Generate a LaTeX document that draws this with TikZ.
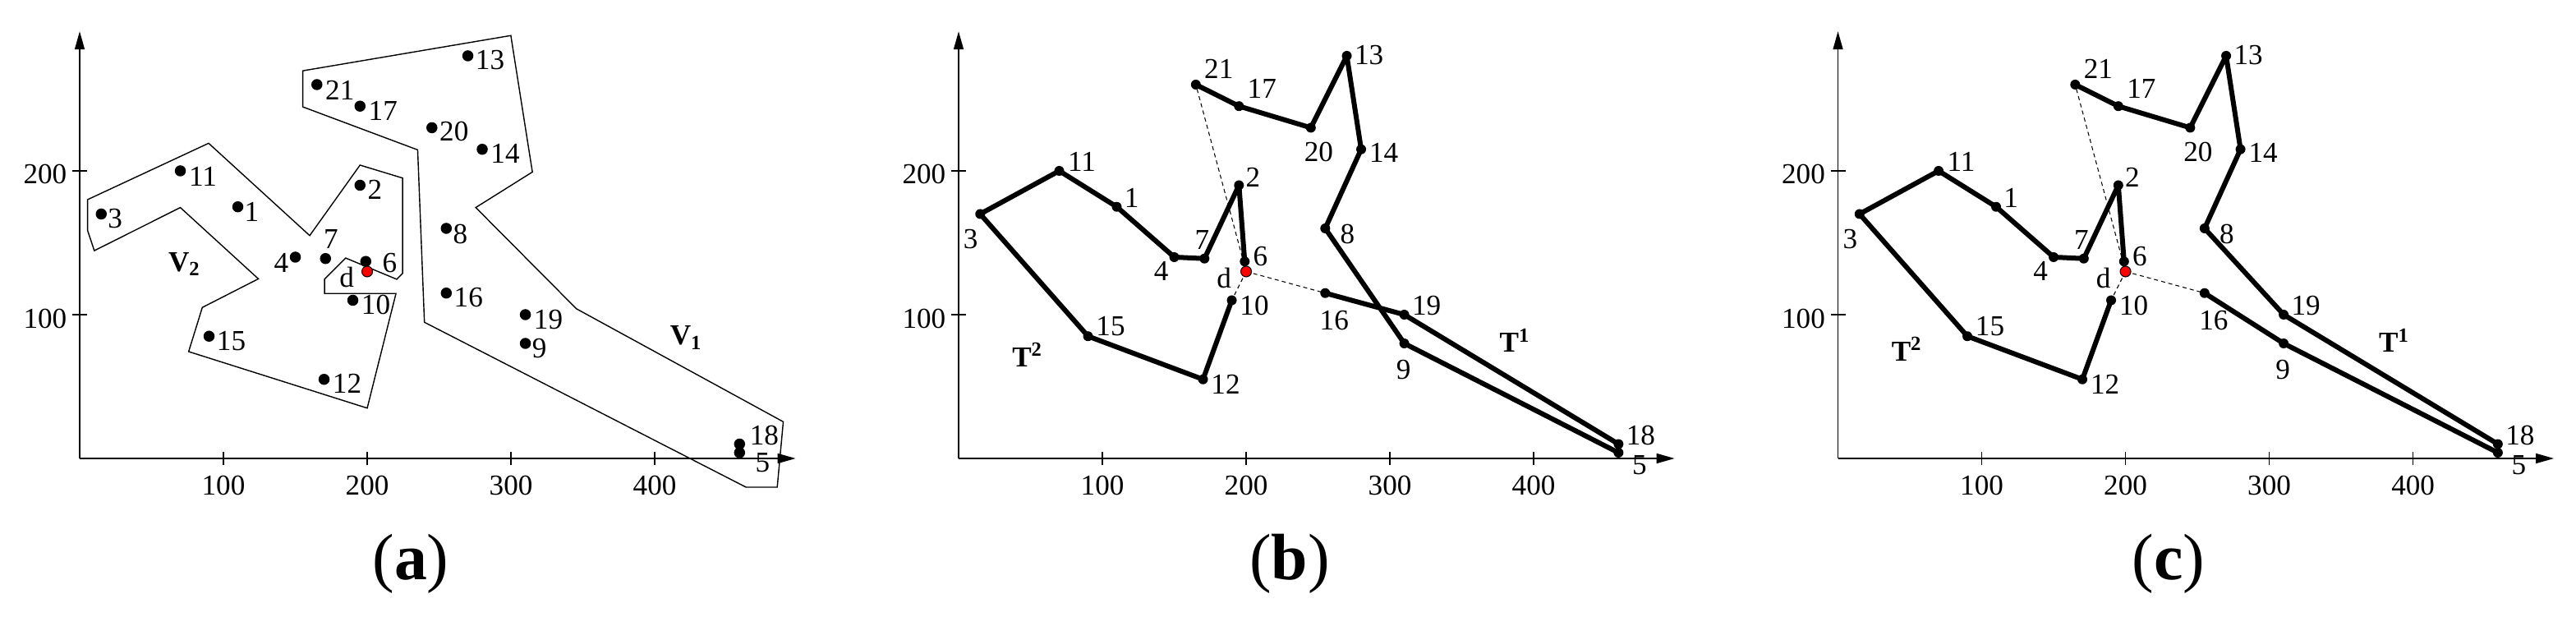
\documentclass[tikz,border=0pt]{standalone}
\usepackage{fontspec}
\setmainfont{Liberation Serif}
\usetikzlibrary{arrows.meta}
\newcommand\mkpts[1]{%
  \coordinate (#11) at (110,175);
  \coordinate (#12) at (195,190);
  \coordinate (#13) at (15,170);
  \coordinate (#14) at (150,140);
  \coordinate (#15) at (459,4);
  \coordinate (#16) at (199,137);
  \coordinate (#17) at (171,139);
  \coordinate (#18) at (255,160);
  \coordinate (#19) at (310,80);
  \coordinate (#110) at (190,110);
  \coordinate (#111) at (70,200);
  \coordinate (#112) at (170,55);
  \coordinate (#113) at (270,280);
  \coordinate (#114) at (280,215);
  \coordinate (#115) at (90,85);
  \coordinate (#116) at (255,115);
  \coordinate (#117) at (195,245);
  \coordinate (#118) at (459,10);
  \coordinate (#119) at (310,100);
  \coordinate (#120) at (245,230);
  \coordinate (#121) at (165,260);
  \coordinate (#1d) at (200,130);
}
\newcommand\mkaxes[1]{%
  \coordinate (#1o) at (0,0);
  \coordinate (#1xe) at (498,0);
  \coordinate (#1ye) at (0,297);
  \draw[axisline] (#1o) -- (#1xe);
  \draw[axisline] (#1o) -- (#1ye);
  \foreach \v in {100,200,300,400}{
    \draw[thinline] (\v,0) ++(0pt,0.08cm) -- ++(0pt,-0.16cm);
    \node[lbl] (#1x\v) at ([yshift=-0.325cm]\v,0) {\v};
  }
  \foreach \v in {100,200}{
    \draw[thinline] (0,\v) ++(-0.09cm,0pt) -- ++(0.18cm,0pt);
    \node[lbl, anchor=east] (#1y\v) at ([xshift=-0.15cm,yshift=-0.045cm]0,\v) {\v};
  }
}
\newcommand\dotl[4]{\node[vtx] (#1-d) at (#1) {};
  \node[lbl] (#1-t) at ([shift={(#3cm,#4cm)}]#1) {#2};}
\newcommand\tourlabels[1]{%
  \dotl{#11}{1}{0.18}{0.106}
  \dotl{#12}{2}{0.17}{0.10}
  \dotl{#13}{3}{-0.115}{-0.31}
  \dotl{#14}{4}{-0.16}{-0.17}
  \dotl{#15}{5}{0.256}{-0.15}
  \dotl{#16}{6}{0.19}{0.065}
  \dotl{#17}{7}{-0.03}{0.23}
  \dotl{#18}{8}{0.27}{-0.07}
  \dotl{#19}{9}{-0.01}{-0.32}
  \dotl{#110}{10}{0.275}{-0.068}
  \dotl{#111}{11}{0.275}{0.106}
  \dotl{#112}{12}{0.275}{-0.06}
  \dotl{#113}{13}{0.27}{0.01}
  \dotl{#114}{14}{0.275}{-0.046}
  \dotl{#115}{15}{0.275}{0.12}
  \dotl{#116}{16}{0.11}{-0.33}
  \dotl{#117}{17}{0.28}{0.21}
  \dotl{#118}{18}{0.27}{0.106}
  \dotl{#119}{19}{0.27}{0.106}
  \dotl{#120}{20}{0.096}{-0.30}
  \dotl{#121}{21}{0.28}{0.19}
  \node[dep] (#1d-d) at (#1d) {};
  \node[lbl] (#1d-t) at ([shift={(-0.27cm,-0.076cm)}]#1d) {d};
}
\begin{document}
\begin{tikzpicture}[
  thinline/.style={line width=0.4pt},
  axisline/.style={line width=0.45pt, -{Triangle[length=0.22cm,width=0.12cm]}},
  vtx/.style={circle, fill=black, inner sep=0pt, minimum size=0.12cm},
  dep/.style={circle, fill=red, draw=black, line width=0.3pt, inner sep=0pt, minimum size=0.13cm},
  lbl/.style={inner sep=0pt, font=\fontsize{10}{12}\selectfont},
  boldlbl/.style={inner sep=0pt, font=\fontsize{10}{12}\selectfont\bfseries},
  tour/.style={line width=0.06cm, line join=round, line cap=round},
  link/.style={line width=0.3pt, dash pattern=on 0.05cm off 0.04cm},
  region/.style={line width=0.4pt, line join=miter},
  captionstyle/.style={inner sep=0pt, font=\fontsize{22.7}{26}\selectfont}
]
\useasboundingbox (0,0) rectangle (31.36,7.5);

% ---------------- panel (a)
\begin{scope}[shift={(0.97cm,1.92cm)}, x=0.0175cm, y=0.0175cm]
  \mkpts{a}
  \mkaxes{a}
  \draw[region] (155.2,269.6) -- (299.9,294.1) -- (314.9,199.2) -- (275.5,174.5)
    -- (345.5,104.1) -- (489.4,25.5) -- (485.2,-20) -- (463.5,-20) -- (239.8,94.7)
    -- (235.1,214.6) -- (155.2,244.5) -- cycle;
  \draw[region] (5.5,180) -- (89.7,219.2) -- (160,155) -- (195,204) -- (224.6,195)
    -- (224.6,128.7) -- (220.5,124.6) -- (185,139.4) -- (170.3,124.6) -- (170.3,114.7)
    -- (220,114.7) -- (200,35) -- (75.8,74.3) -- (85.3,105) -- (124.3,124.9)
    -- (70,174.5) -- (10.2,144.5) -- (5.5,158.5) -- cycle;
  \begin{scope}[vtx/.append style={minimum size=0.135cm}]
  \dotl{a1}{1}{0.17}{-0.065}
  \dotl{a2}{2}{0.18}{-0.057}
  \dotl{a3}{3}{0.17}{-0.057}
  \dotl{a4}{4}{-0.17}{-0.07}
  \dotl{a5}{5}{0.28}{-0.12}
  \dotl{a6}{6}{0.29}{-0.02}
  \dotl{a7}{7}{0.067}{0.233}
  \dotl{a8}{8}{0.17}{-0.07}
  \dotl{a9}{9}{0.17}{-0.06}
  \dotl{a10}{10}{0.28}{-0.05}
  \dotl{a11}{11}{0.275}{-0.065}
  \dotl{a12}{12}{0.28}{-0.053}
  \dotl{a13}{13}{0.27}{-0.05}
  \dotl{a14}{14}{0.28}{-0.05}
  \dotl{a15}{15}{0.27}{-0.06}
  \dotl{a16}{16}{0.27}{-0.05}
  \dotl{a17}{17}{0.28}{-0.057}
  \dotl{a18}{18}{0.30}{0.105}
  \dotl{a19}{19}{0.28}{-0.057}
  \dotl{a20}{20}{0.27}{-0.046}
  \dotl{a21}{21}{0.28}{-0.07}
  \end{scope}
  \node[dep] (ad-d) at (ad) {};
  \node[lbl] (ad-t) at ([shift={(-0.25cm,-0.067cm)}]ad) {d};
  \node[boldlbl] (aV1) at (422,84) {V\textsubscript{1}};
  \node[boldlbl] (aV2) at (73,135) {V\textsubscript{2}};
\end{scope}
\node[captionstyle] (capa) at (5.00,0.64) {(\textbf{a})};

% ---------------- panel (b)
\begin{scope}[shift={(11.67cm,1.92cm)}, x=0.0175cm, y=0.0175cm]
  \mkpts{b}
  \mkaxes{b}
  \draw[link] (bd) -- (b21);
  \draw[link] (bd) -- (b10);
  \draw[link] (bd) -- (b16);
  \draw[tour] (b6) -- (b2) -- (b7) -- (b4) -- (b1) -- (b11) -- (b3) -- (b15) -- (b12) -- (b10);
  \draw[tour] (b21) -- (b17) -- (b20) -- (b13) -- (b14) -- (b8) -- (b9) -- (b5) -- (b18) -- (b19) -- (b16);
  \tourlabels{b}
  \node[boldlbl] (bT1) at (387,82) {T\textsuperscript{1}};
  \node[boldlbl] (bT2) at (48,72) {T\textsuperscript{2}};
\end{scope}
\node[captionstyle] (capb) at (15.70,0.64) {(\textbf{b})};

% ---------------- panel (c)
\begin{scope}[shift={(22.375cm,1.92cm)}, x=0.0175cm, y=0.0175cm]
  \mkpts{c}
  \mkaxes{c}
  \draw[link] (cd) -- (c21);
  \draw[link] (cd) -- (c10);
  \draw[link] (cd) -- (c16);
  \draw[tour] (c6) -- (c2) -- (c7) -- (c4) -- (c1) -- (c11) -- (c3) -- (c15) -- (c12) -- (c10);
  \draw[tour] (c21) -- (c17) -- (c20) -- (c13) -- (c14) -- (c8) -- (c19) -- (c18) -- (c5) -- (c9) -- (c16);
  \tourlabels{c}
  \node[boldlbl] (cT1) at (387,82) {T\textsuperscript{1}};
  \node[boldlbl] (cT2) at (48,76) {T\textsuperscript{2}};
\end{scope}
\node[captionstyle] (capc) at (26.40,0.64) {(\textbf{c})};
\end{tikzpicture}
\end{document}
